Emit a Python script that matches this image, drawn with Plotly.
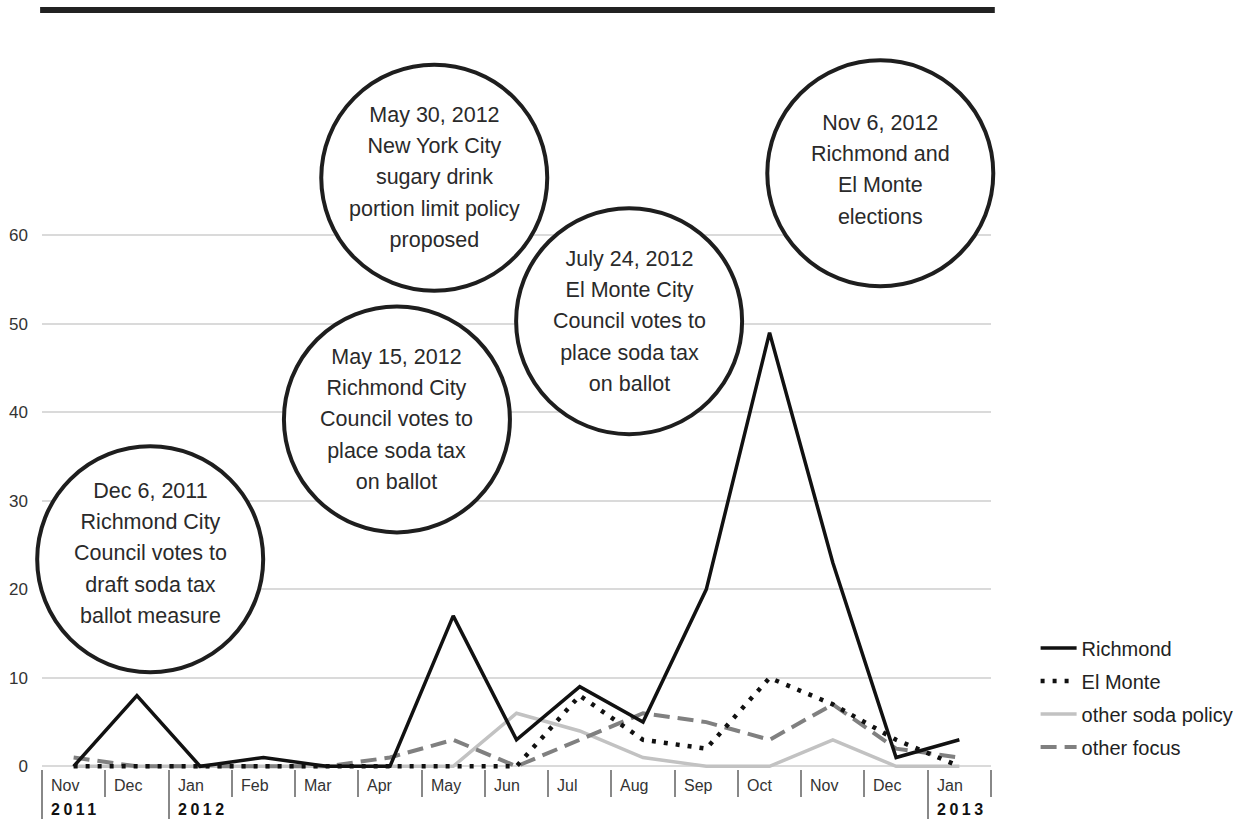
import plotly.graph_objects as go

# ---- data ----
months = ["Nov", "Dec", "Jan", "Feb", "Mar", "Apr", "May", "Jun", "Jul",
          "Aug", "Sep", "Oct", "Nov", "Dec", "Jan"]
years = ["2011", "2012", "2013"]
year_start_idx = [0, 2, 14]

richmond = [0, 8, 0, 1, 0, 0, 17, 3, 9, 5, 20, 49, 23, 1, 3]
el_monte = [0, 0, 0, 0, 0, 0, 0, 0, 8, 3, 2, 10, 7, 3, 0]
other_soda = [0, 0, 0, 0, 0, 0, 0, 6, 4, 1, 0, 0, 3, 0, 0]
other_focus = [1, 0, 0, 0, 0, 1, 3, 0, 3, 6, 5, 3, 7, 2, 1]

y_ticks = [0, 10, 20, 30, 40, 50, 60]

events = [
    ["Dec 6, 2011", "Richmond City", "Council votes to", "draft soda tax", "ballot measure"],
    ["May 15, 2012", "Richmond City", "Council votes to", "place soda tax", "on ballot"],
    ["May 30, 2012", "New York City", "sugary drink", "portion limit policy", "proposed"],
    ["July 24, 2012", "El Monte City", "Council votes to", "place soda tax", "on ballot"],
    ["Nov 6, 2012", "Richmond and", "El Monte", "elections"],
]
# circle centres (data coordinates) – layout only
event_pos = [(1.21, 23.4), (5.11, 39.2), (5.70, 66.5), (8.78, 50.3), (12.75, 67.0)]
event_text_dy = [0.6, 0, 0, 0, 0.4]

X_RANGE = [-0.5, 14.5]
Y_RANGE = [-0.3, 83.2]

FONT = "Liberation Sans, Arial, sans-serif"
x = list(range(len(months)))

fig = go.Figure()
series = [
    ("other soda policy", other_soda, dict(color="#c2c2c2", width=3.5), 3),
    ("other focus", other_focus, dict(color="#808080", width=4, dash="16px,8px"), 4),
    ("El Monte", el_monte, dict(color="#111111", width=4.5, dash="4px,8px"), 2),
    ("Richmond", richmond, dict(color="#111111", width=3.5), 1),
]
for name, vals, line, rank in series:
    fig.add_trace(go.Scatter(x=x, y=vals, mode="lines", name=name, line=line,
                             legendrank=rank, legendgroup=name))


def to_paper_x(v):
    return (v - X_RANGE[0]) / (X_RANGE[1] - X_RANGE[0])


def to_paper_y(v):
    return (v - Y_RANGE[0]) / (Y_RANGE[1] - Y_RANGE[0])


shapes = []
annotations = []
for (cx, cy), lines, dy in zip(event_pos, events, event_text_dy):
    shapes.append(dict(type="circle", xref="paper", yref="paper", xsizemode="pixel",
                       ysizemode="pixel", xanchor=to_paper_x(cx), yanchor=to_paper_y(cy),
                       x0=-113, x1=113, y0=-113, y1=113,
                       line=dict(color="#1e1e1e", width=4), fillcolor="white",
                       layer="above"))
    txt = "<br>".join('<span style="font-size:21.5px">%s</span>' % l for l in lines)
    annotations.append(dict(x=cx, y=cy + dy, xref="x", yref="y", text=txt,
                            showarrow=False, xanchor="center", yanchor="middle",
                            font=dict(family=FONT, size=24, color="#2a2a2a")))

# month labels (left aligned after each separator)
for i, m in enumerate(months):
    annotations.append(dict(x=i - 0.5, y=0, xref="x", yref="paper", text=m,
                            showarrow=False, xanchor="left", yanchor="middle",
                            xshift=7, yshift=-16,
                            font=dict(family=FONT, size=16, color="#333333")))
for yi, idx in zip(years, year_start_idx):
    annotations.append(dict(x=idx - 0.5, y=0, xref="x", yref="paper",
                            text='<b><span style="letter-spacing:3.5px">%s</span></b>' % yi,
                            showarrow=False, xanchor="left", yanchor="middle",
                            xshift=7, yshift=-40,
                            font=dict(family=FONT, size=16, color="#111111")))

# top heavy rule
shapes.append(dict(type="rect", xref="paper", yref="paper",
                   x0=-0.002, x1=1.004, y0=1 + 17 / 739, y1=1 + 23 / 739,
                   fillcolor="#222222", line=dict(width=0), layer="above"))

boundaries = [i - 0.5 for i in range(len(months) + 1)]
year_bounds = [i - 0.5 for i in year_start_idx]

fig.update_layout(
    width=1251, height=819,
    margin=dict(l=42, r=260, t=30, b=50, autoexpand=False),
    plot_bgcolor="white", paper_bgcolor="white",
    font=dict(family=FONT, size=16, color="#333333"),
    shapes=shapes, annotations=annotations,
    showlegend=True,
    legend=dict(x=1.047, y=0.19, xanchor="left", yanchor="top",
                font=dict(family=FONT, size=20, color="#222222"),
                tracegroupgap=4, bgcolor="rgba(0,0,0,0)", itemwidth=36),
    xaxis=dict(range=X_RANGE, showgrid=False, zeroline=False, automargin=False,
               tickmode="array", tickvals=year_bounds, ticks="outside",
               ticklen=52, tickcolor="#888888", tickwidth=1.5,
               showticklabels=False,
               minor=dict(tickmode="array", tickvals=boundaries, ticks="outside",
                          ticklen=27, tickcolor="#888888", tickwidth=1.5,
                          showgrid=False),
               fixedrange=True),
    yaxis=dict(range=Y_RANGE, tickmode="array", tickvals=y_ticks, automargin=False,
               showgrid=True, gridcolor="#dadada", gridwidth=2,
               zeroline=False, ticks="", ticklabelstandoff=13,
               tickfont=dict(family=FONT, size=17, color="#333333"),
               fixedrange=True),
)

fig.write_html("out.html", config={"displayModeBar": False},
               post_script="document.body.style.margin='0';document.body.style.overflow='hidden';")
